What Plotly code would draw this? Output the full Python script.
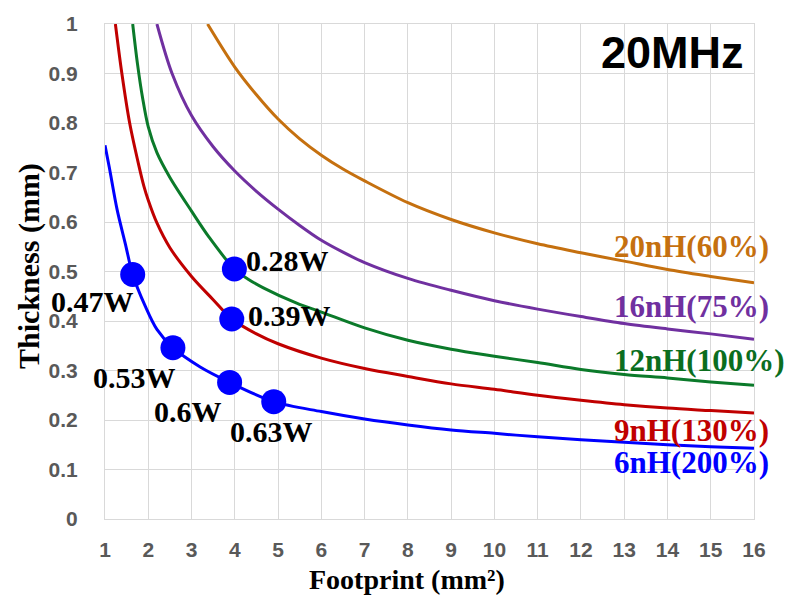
import plotly.graph_objects as go

# Thickness vs. footprint curves at 20 MHz, one per inductance
x_6nH = [1.0, 1.1, 1.28, 1.47, 1.64, 1.93, 2.2, 2.57, 3.2, 3.88, 4.9, 6, 7, 8, 9, 10, 11, 12, 13, 14, 15, 16]
y_6nH = [0.755, 0.71, 0.625, 0.556, 0.494, 0.43, 0.383, 0.346, 0.307, 0.276, 0.237, 0.217, 0.202, 0.190,
         0.180, 0.173, 0.166, 0.160, 0.155, 0.150, 0.146, 0.143]

x_9nH = [1.24, 1.39, 1.57, 1.78, 1.9, 2.0, 2.2, 2.5, 3.0, 3.5, 3.93, 4.5, 5, 6, 7, 8, 9, 10, 11, 12, 13, 14, 15, 16]
y_9nH = [1.0, 0.90, 0.80, 0.715, 0.672, 0.644, 0.598, 0.548, 0.490, 0.443, 0.404, 0.374, 0.354, 0.325, 0.304,
         0.288, 0.273, 0.262, 0.250, 0.240, 0.231, 0.224, 0.219, 0.214]

x_12nH = [1.64, 1.75, 1.87, 2.0, 2.2, 2.5, 3.0, 3.4, 3.99, 4.3, 4.66, 5.43, 6, 7, 8, 9, 10, 11, 12, 13, 14, 15, 16]
y_12nH = [1.0, 0.92, 0.85, 0.792, 0.740, 0.690, 0.622, 0.570, 0.505, 0.485, 0.467, 0.436, 0.418, 0.386,
          0.361, 0.343, 0.329, 0.316, 0.302, 0.292, 0.285, 0.277, 0.270]

x_16nH = [2.2, 2.55, 3.0, 3.5, 4.0, 4.5, 5.0, 5.5, 6, 6.5, 7, 8, 9, 10, 11, 12, 13, 14, 15, 16]
y_16nH = [1.0, 0.90, 0.815, 0.752, 0.703, 0.662, 0.626, 0.593, 0.563, 0.539, 0.518, 0.486, 0.462, 0.441,
          0.424, 0.409, 0.395, 0.384, 0.374, 0.363]

x_20nH = [3.37, 4.0, 4.5, 5.0, 5.5, 6.0, 6.5, 7, 8, 9, 10, 11, 12, 13, 14, 15, 16]
y_20nH = [1.0, 0.913, 0.857, 0.808, 0.768, 0.735, 0.707, 0.683, 0.639, 0.605, 0.578, 0.556, 0.538, 0.521,
          0.504, 0.490, 0.477]

series_names = ["6nH(200%)", "9nH(130%)", "12nH(100%)", "16nH(75%)", "20nH(60%)"]

# Operating points with their loss values
point_x = [1.64, 2.57, 3.88, 4.9, 3.99, 3.93]
point_y = [0.494, 0.346, 0.276, 0.237, 0.505, 0.404]
point_labels = ["0.47W", "0.53W", "0.6W", "0.63W", "0.28W", "0.39W"]

x_ticks = list(range(1, 17))
y_ticks = [0, 0.1, 0.2, 0.3, 0.4, 0.5, 0.6, 0.7, 0.8, 0.9, 1]
y_tick_text = ["0", "0.1", "0.2", "0.3", "0.4", "0.5", "0.6", "0.7", "0.8", "0.9", "1"]

colors = ["#0000FF", "#C00000", "#0B7A2A", "#7030A0", "#C5700F"]
label_colors = ["#0000FF", "#C00000", "#0B6E1E", "#7030A0", "#C5700F"]
SERIF = "Liberation Serif, Times New Roman, serif"
SANS = "Liberation Sans, Arial, sans-serif"

fig = go.Figure()
curves = [(x_6nH, y_6nH), (x_9nH, y_9nH), (x_12nH, y_12nH), (x_16nH, y_16nH), (x_20nH, y_20nH)]
for (xs, ys), name, col in zip(curves, series_names, colors):
    fig.add_trace(go.Scatter(x=xs, y=ys, mode="lines", name=name,
                             line=dict(color=col, width=3, shape="spline", smoothing=0.9)))

fig.add_trace(go.Scatter(x=point_x, y=point_y, mode="markers", name="points",
                         marker=dict(color="#0000FF", size=25)))

# loss labels beside each point (pixel offsets)
label_offsets = [(-40, -27), (-38, -30), (-42, -29), (-2, -30), (53, 9), (58, 4)]
for px, py, txt, (dx, dy) in zip(point_x, point_y, point_labels, label_offsets):
    fig.add_annotation(x=px, y=py, text=txt, showarrow=False, xshift=dx, yshift=dy,
                       font=dict(family=SERIF, size=30, color="black", weight="bold"))

# curve names at the right end
name_y = [0.114, 0.178, 0.320, 0.430, 0.550]
for txt, yy, col in zip(series_names, name_y, label_colors):
    fig.add_annotation(x=12.72, y=yy, text=txt, showarrow=False, xanchor="left", yanchor="middle",
                       font=dict(family=SERIF, size=31, color=col, weight="bold"))

fig.add_annotation(x=0.874, y=0.942, xref="paper", yref="paper", text="20MHz", showarrow=False,
                   xanchor="center", yanchor="middle",
                   font=dict(family=SANS, size=45, color="black", weight="bold"))

# axis titles
fig.add_annotation(x=0.465, y=-0.122, xref="paper", yref="paper", text="Footprint (mm²)",
                   showarrow=False, xanchor="center", yanchor="middle",
                   font=dict(family=SERIF, size=28, color="black", weight="bold"))
fig.add_annotation(x=-0.118, y=0.512, xref="paper", yref="paper", text="Thickness (mm)",
                   showarrow=False, xanchor="center", yanchor="middle", textangle=-90,
                   font=dict(family=SERIF, size=30, color="black", weight="bold"))

fig.update_layout(
    width=790, height=597,
    margin=dict(l=105, r=36, t=21, b=78),
    paper_bgcolor="white", plot_bgcolor="white",
    showlegend=False,
    xaxis=dict(range=[1, 16], tickvals=x_ticks, showgrid=True, gridcolor="#D9D9D9", gridwidth=1,
               zeroline=False, showline=True, linecolor="#D9D9D9", mirror=True,
               tickfont=dict(family=SANS, size=21, color="#595959", weight="bold"),
               ticklabelstandoff=12),
    yaxis=dict(range=[0, 1], tickvals=y_ticks, ticktext=y_tick_text, showgrid=True,
               gridcolor="#D9D9D9", gridwidth=1, zeroline=False, showline=True, linecolor="#D9D9D9",
               mirror=True,
               tickfont=dict(family=SANS, size=21, color="#595959", weight="bold"),
               ticklabelstandoff=22),
)

fig.write_html("out.html")
